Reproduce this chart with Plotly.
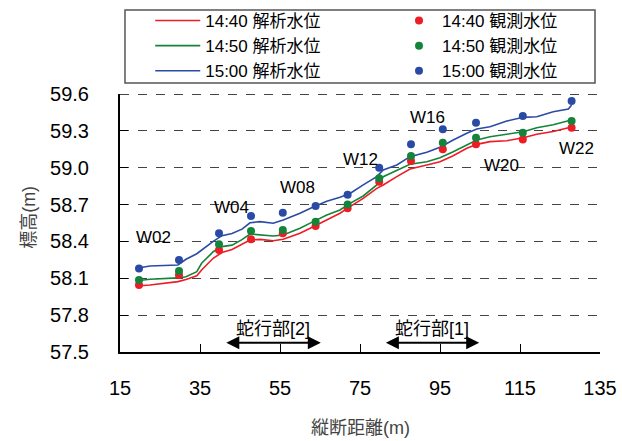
import plotly.graph_objects as go

# ---- data ----
line_x = [19.2, 22.5, 29.5, 31.5, 34.2, 35.4, 38.3, 40.5, 43.0, 45.5, 47.5, 50.0, 53.3, 55.8,
          60.0, 63.3, 66.7, 70.0, 72.5, 75.8, 79.2, 80.8, 84.2, 87.5, 91.7, 95.0, 98.3,
          101.7, 104.2, 107.5, 111.7, 115.8, 119.2, 123.3, 127.1, 127.9]
calc_1440 = [58.037, 58.045, 58.073, 58.090, 58.121, 58.167, 58.263, 58.310, 58.334, 58.380,
             58.412, 58.417, 58.406, 58.418, 58.466, 58.520, 58.574, 58.629, 58.683, 58.751,
             58.832, 58.859, 58.927, 58.990, 59.022, 59.049, 59.098, 59.158, 59.190, 59.212,
             59.220, 59.244, 59.272, 59.295, 59.326, 59.334]
calc_1450 = [58.080, 58.092, 58.103, 58.112, 58.154, 58.222, 58.316, 58.358, 58.370, 58.415,
             58.460, 58.455, 58.444, 58.452, 58.507, 58.561, 58.615, 58.656, 58.710, 58.770,
             58.860, 58.927, 58.975, 59.028, 59.049, 59.082, 59.130, 59.185, 59.226, 59.252,
             59.272, 59.293, 59.326, 59.350, 59.383, 59.388]
calc_1500 = [58.181, 58.200, 58.208, 58.255, 58.300, 58.330, 58.400, 58.447, 58.465, 58.500,
             58.552, 58.561, 58.548, 58.575, 58.629, 58.680, 58.727, 58.760, 58.790, 58.860,
             58.927, 58.981, 59.022, 59.090, 59.125, 59.166, 59.226, 59.280, 59.315, 59.334,
             59.380, 59.410, 59.415, 59.456, 59.478, 59.510]

obs_x = [19.75, 29.75, 39.75, 47.75, 55.7, 63.9, 71.9, 79.8, 87.75, 95.7, 104.0, 115.7, 127.9]
obs_1440 = [58.045, 58.127, 58.330, 58.417, 58.466, 58.526, 58.670, 58.886, 59.055, 59.150,
            59.190, 59.230, 59.326]
obs_1450 = [58.086, 58.159, 58.377, 58.485, 58.493, 58.560, 58.700, 58.914, 59.095, 59.204,
            59.244, 59.285, 59.380]
obs_1500 = [58.180, 58.249, 58.466, 58.607, 58.634, 58.688, 58.780, 59.000, 59.190, 59.313,
            59.366, 59.420, 59.543]

station_labels = ["W02", "W04", "W08", "W12", "W16", "W20", "W22"]
station_x = [23.3, 42.9, 59.3, 75.0, 91.8, 110.4, 129.2]
station_y = [58.43, 58.675, 58.84, 59.063, 59.41, 59.014, 59.158]

meander_labels = ["蛇行部[2]", "蛇行部[1]"]
meander_start = [41.2, 81.1]
meander_end = [65.2, 104.8]
meander_y = 57.575
meander_text_y = 57.685

x_ticks = [15, 35, 55, 75, 95, 115, 135]
y_ticks = [57.5, 57.8, 58.1, 58.4, 58.7, 59.0, 59.3, 59.6]

series_names_calc = ["14:40 解析水位", "14:50 解析水位", "15:00 解析水位"]
series_names_obs = ["14:40 観測水位", "14:50 観測水位", "15:00 観測水位"]
colors = ["#ee1c25", "#13843a", "#2a4ba5"]

LAT = "Liberation Sans, Arial, sans-serif"
CJK = "Liberation Sans, Noto Sans CJK JP, sans-serif"

fig = go.Figure()
for name, ys, c in zip(series_names_calc, [calc_1440, calc_1450, calc_1500], colors):
    fig.add_trace(go.Scatter(x=line_x, y=ys, mode="lines", name=name,
                             line=dict(color=c, width=1.6), legend="legend"))
for name, ys, c in zip(series_names_obs, [obs_1440, obs_1450, obs_1500], colors):
    fig.add_trace(go.Scatter(x=obs_x, y=ys, mode="markers", name=name,
                             marker=dict(color=c, size=8), legend="legend2"))

annotations = []
for t, x, y in zip(station_labels, station_x, station_y):
    annotations.append(dict(x=x, y=y, xref="x", yref="y", text=t, showarrow=False,
                            font=dict(family=LAT, size=17, color="black")))
for t, x0, x1 in zip(meander_labels, meander_start, meander_end):
    annotations.append(dict(x=x1, y=meander_y, ax=x0, ay=meander_y, xref="x", yref="y",
                            axref="x", ayref="y", text="", showarrow=True,
                            arrowhead=2, arrowside="end+start", arrowsize=1.3,
                            arrowwidth=2, arrowcolor="black", standoff=0, startstandoff=0))
    annotations.append(dict(x=(x0 + x1) / 2, y=meander_text_y, xref="x", yref="y", text=t,
                            showarrow=False, font=dict(family=CJK, size=18, color="black")))
annotations.append(dict(x=0.5, y=-0.295, xref="paper", yref="paper", text="縦断距離(m)",
                        showarrow=False, yanchor="middle",
                        font=dict(family=CJK, size=18, color="#444")))
annotations.append(dict(x=-0.19, y=0.523, xref="paper", yref="paper", text="標高(m)",
                        showarrow=False, textangle=-90, xanchor="center", yanchor="middle",
                        font=dict(family=CJK, size=18, color="#444")))

shapes = [
    dict(type="rect", xref="paper", yref="paper", x0=0.0104, x1=0.9896, y0=1.0426, y1=1.3256,
         line=dict(color="#555", width=1.5)),
    dict(type="line", xref="paper", yref="y", x0=0, x1=1, y0=y_ticks[-1], y1=y_ticks[-1],
         line=dict(color="#444", width=2, dash="dash")),
]

fig.update_layout(
    width=622, height=441,
    margin=dict(l=120, r=22, t=94, b=89, autoexpand=False),
    paper_bgcolor="white", plot_bgcolor="white",
    showlegend=True,
    legend=dict(x=0.063, y=1.3527, xanchor="left", yanchor="top", bgcolor="rgba(0,0,0,0)",
                itemwidth=45,
                font=dict(family=CJK, size=17, color="black"), tracegroupgap=0),
    legend2=dict(x=0.575, y=1.3527, xanchor="left", yanchor="top", bgcolor="rgba(0,0,0,0)",
                 itemwidth=36,
                 font=dict(family=CJK, size=17, color="black"), tracegroupgap=0),
    annotations=annotations,
    shapes=shapes,
    xaxis=dict(range=[x_ticks[0], x_ticks[-1]], tickvals=x_ticks, ticktext=[str(v) for v in x_ticks],
               ticks="inside", ticklen=8, tickcolor="black", showline=True, linecolor="black",
               linewidth=2, showgrid=False, zeroline=False, ticklabelstandoff=17,
               tickfont=dict(family=LAT, size=20, color="black")),
    yaxis=dict(range=[y_ticks[0], y_ticks[-1]], tickvals=y_ticks,
               ticktext=[f"{v:.1f}" for v in y_ticks],
               ticks="inside", ticklen=8, tickcolor="black", showline=True, linecolor="black",
               linewidth=2, showgrid=True, gridcolor="#444", gridwidth=1, griddash="dash",
               zeroline=False, ticklabelstandoff=25,
               tickfont=dict(family=LAT, size=20, color="black")),
)

fig.write_html("out.html", config={"displayModeBar": False},
               post_script="document.body.style.margin='0';document.body.style.overflow='hidden';")
